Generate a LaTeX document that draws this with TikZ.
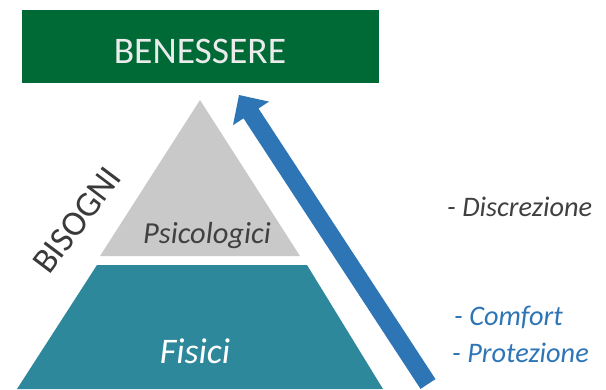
\documentclass[tikz,border=0pt]{standalone}
\usepackage{fontspec}
\setmainfont{Carlito}
\definecolor{bgreen}{HTML}{006A37}
\definecolor{pgray}{HTML}{C9C9C9}
\definecolor{pteal}{HTML}{2D889B}
\definecolor{ablue}{HTML}{2E75B6}
\definecolor{tdark}{HTML}{404040}
\tikzset{
  lbl/.style={inner sep=0pt, anchor=base},
  lblw/.style={inner sep=0pt, anchor=base west},
}
\begin{document}
\begin{tikzpicture}[x=1pt,y=-1pt]
\useasboundingbox (0,0) rectangle (606,389);
% green box
\fill[bgreen] (22,10) rectangle (379,83);
\node[lbl, text=white!92!black] (ben) at (200,63) {\fontsize{37.5}{40}\selectfont BENESSERE};
% pyramid
\fill[pgray] (200,100) -- (300,256) -- (100,256) -- cycle;
\fill[pteal] (97,265) -- (307,265) -- (383,389) -- (17,389) -- cycle;
\node[lbl, text=tdark] (psi) at (207,243) {\fontsize{30.5}{34}\selectfont\itshape Psicologici};
\node[lbl, text=white] (fis) at (195,363) {\fontsize{36}{40}\selectfont\itshape Fisici};
% label
\node[inner sep=0pt, rotate=53, text=tdark!90!black] (bis) at (77,220) {\fontsize{35.5}{38}\selectfont BISOGNI};
% blue arrow
\fill[ablue] (420.5,388.9) -- (243.5,118.3) -- (233,125.2) -- (239,95) -- (269,101.6) -- (258.5,108.5) -- (435.5,379.1) -- cycle;
% lists
\node[lblw, text=tdark] (dis) at (447,216) {\fontsize{28.3}{32}\selectfont\itshape - Discrezione};
\node[lblw, text=ablue] (com) at (454,325) {\fontsize{28.3}{32}\selectfont\itshape - Comfort};
\node[lblw, text=ablue] (pro) at (452,362) {\fontsize{28.3}{32}\selectfont\itshape - Protezione};
\end{tikzpicture}
\end{document}
